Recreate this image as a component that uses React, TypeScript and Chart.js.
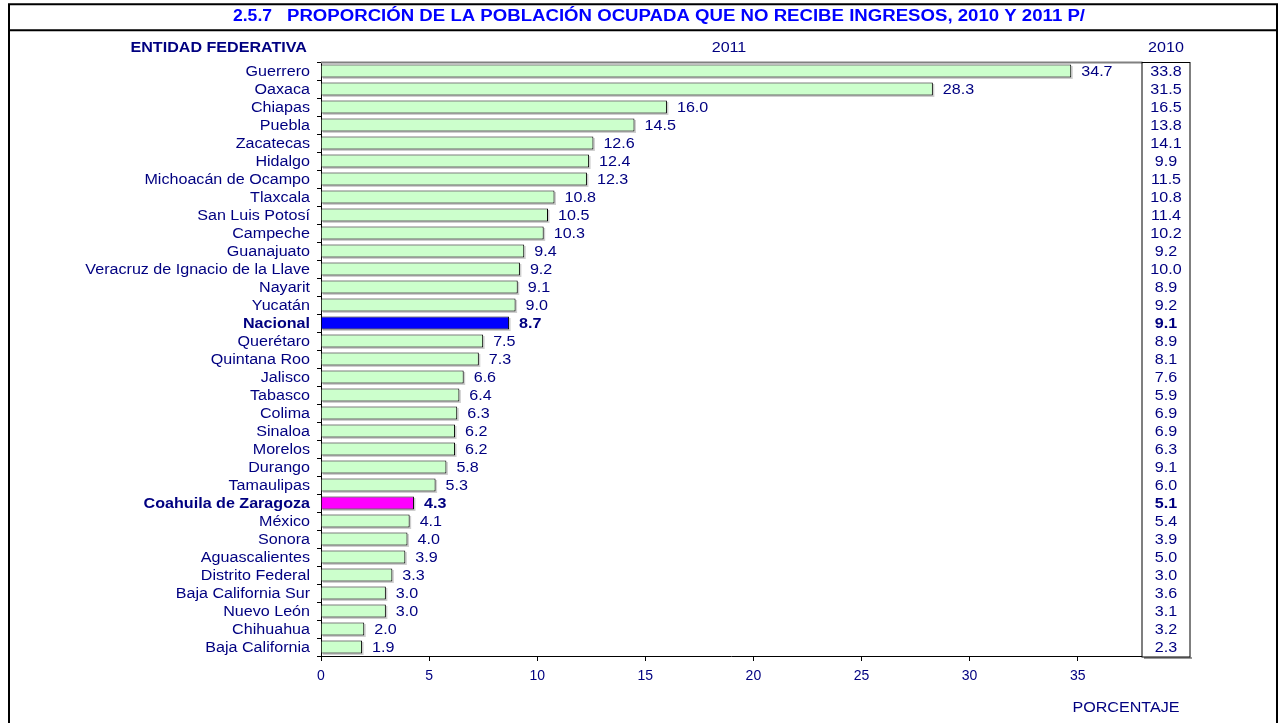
import React, { useEffect, useRef } from "react";
import { Chart, registerables } from "chart.js";

Chart.register(...registerables);

const entidades = [
  "Guerrero", "Oaxaca", "Chiapas", "Puebla", "Zacatecas", "Hidalgo",
  "Michoacán de Ocampo", "Tlaxcala", "San Luis Potosí", "Campeche",
  "Guanajuato", "Veracruz de Ignacio de la Llave", "Nayarit", "Yucatán",
  "Nacional", "Querétaro", "Quintana Roo", "Jalisco", "Tabasco", "Colima",
  "Sinaloa", "Morelos", "Durango", "Tamaulipas", "Coahuila de Zaragoza",
  "México", "Sonora", "Aguascalientes", "Distrito Federal",
  "Baja California Sur", "Nuevo León", "Chihuahua", "Baja California",
];

const valores2011 = [
  34.7, 28.3, 16.0, 14.5, 12.6, 12.4, 12.3, 10.8, 10.5, 10.3, 9.4, 9.2, 9.1,
  9.0, 8.7, 7.5, 7.3, 6.6, 6.4, 6.3, 6.2, 6.2, 5.8, 5.3, 4.3, 4.1, 4.0, 3.9,
  3.3, 3.0, 3.0, 2.0, 1.9,
];

const valores2010 = [
  33.8, 31.5, 16.5, 13.8, 14.1, 9.9, 11.5, 10.8, 11.4, 10.2, 9.2, 10.0, 8.9,
  9.2, 9.1, 8.9, 8.1, 7.6, 5.9, 6.9, 6.9, 6.3, 9.1, 6.0, 5.1, 5.4, 3.9, 5.0,
  3.0, 3.6, 3.1, 3.2, 2.3,
];

const destacados: Record<string, string> = {
  Nacional: "#0000FF",
  "Coahuila de Zaragoza": "#FF00FF",
};

const TITULO_NUM = "2.5.7";
const TITULO = "PROPORCIÓN DE LA POBLACIÓN OCUPADA QUE NO RECIBE INGRESOS, 2010 Y 2011 P/";

const NAVY = "#000080";
const FONT = '"Liberation Sans", Arial, sans-serif';
const SX = 1.15;
const FS = 14;

function sText(
  ctx: CanvasRenderingContext2D,
  text: string,
  x: number,
  y: number,
  align: "left" | "right" | "center",
  font: string,
  color: string,
  sx: number = SX
) {
  ctx.save();
  ctx.font = font;
  ctx.fillStyle = color;
  ctx.textBaseline = "middle";
  ctx.textAlign = "left";
  const w = ctx.measureText(text).width * sx;
  const left = align === "left" ? x : align === "right" ? x - w : x - w / 2;
  ctx.translate(left, y);
  ctx.scale(sx, 1);
  ctx.fillText(text, 0, 0);
  ctx.restore();
}

function fitText(
  ctx: CanvasRenderingContext2D,
  text: string,
  left: number,
  right: number,
  y: number,
  font: string,
  color: string
) {
  ctx.save();
  ctx.font = font;
  const w = ctx.measureText(text).width;
  ctx.restore();
  sText(ctx, text, left, y, "left", font, color, (right - left) / w);
}

const decor = {
  id: "decor",
  beforeDraw(chart: any) {
    const ctx = chart.ctx as CanvasRenderingContext2D;
    ctx.save();
    ctx.fillStyle = "#FFFFFF";
    ctx.fillRect(0, 0, chart.width, chart.height);
    ctx.restore();
  },
  beforeDatasetsDraw(chart: any) {
    // faint shadow under the bars
    const ctx = chart.ctx as CanvasRenderingContext2D;
    const meta = chart.getDatasetMeta(0);
    ctx.save();
    ctx.fillStyle = "#cfcfcf";
    meta.data.forEach((bar: any) => {
      const h = bar.height;
      ctx.fillRect(bar.base + 1.5, bar.y - h / 2 + 1.5, bar.x - bar.base, h);
    });
    ctx.restore();
  },
  afterDraw(chart: any) {
    const ctx = chart.ctx as CanvasRenderingContext2D;
    const area = chart.chartArea;
    const yScale = chart.scales.y;
    const meta = chart.getDatasetMeta(0);

    // outer frame
    ctx.save();
    ctx.strokeStyle = "#000000";
    ctx.lineWidth = 2;
    ctx.beginPath();
    ctx.moveTo(9, 730);
    ctx.lineTo(9, 4.3);
    ctx.lineTo(1277, 4.3);
    ctx.lineTo(1277, 730);
    ctx.moveTo(9, 30.3);
    ctx.lineTo(1277, 30.3);
    ctx.stroke();

    // top plot border
    ctx.strokeStyle = "#808080";
    ctx.lineWidth = 2;
    ctx.beginPath();
    ctx.moveTo(area.left, area.top + 0.5);
    ctx.lineTo(area.right + 1, area.top + 0.5);
    ctx.stroke();

    // 2010 box
    const bx = area.right + 0.5;
    const bw = 48;
    ctx.fillStyle = "#9a9a9a";
    ctx.fillRect(bx + 2, area.bottom + 1, bw, 2);
    ctx.strokeStyle = "#000000";
    ctx.lineWidth = 1;
    ctx.strokeRect(bx, area.top + 0.5, bw, area.bottom - area.top + 0.5);
    ctx.restore();

    // title
    fitText(ctx, TITULO_NUM, 233, 272, 17, `bold 16px ${FONT}`, "#0000FF");
    fitText(ctx, TITULO, 287, 1085, 17, `bold 16px ${FONT}`, "#0000FF");

    // headers
    sText(ctx, "ENTIDAD FEDERATIVA", 307, 48.5, "right", `bold ${FS}px ${FONT}`, NAVY);
    sText(ctx, "2011", 729, 48.5, "center", `${FS}px ${FONT}`, NAVY);
    sText(ctx, "2010", bx + bw / 2, 48.5, "center", `${FS}px ${FONT}`, NAVY);
    sText(ctx, "PORCENTAJE", 1126, 708, "center", `${FS}px ${FONT}`, NAVY);

    // category labels, value labels and 2010 values
    entidades.forEach((name, i) => {
      const y = yScale.getPixelForValue(i) + 1;
      const bold = destacados[name] ? "bold " : "";
      sText(ctx, name, area.left - 11, y, "right", `${bold}${FS}px ${FONT}`, NAVY);
      const bar = meta.data[i];
      sText(ctx, valores2011[i].toFixed(1), bar.x + 10, y, "left", `${bold}${FS}px ${FONT}`, NAVY);
      sText(ctx, valores2010[i].toFixed(1), bx + bw / 2, y + 0.5, "center", `${bold}${FS}px ${FONT}`, NAVY);
    });
  },
};

export default function App() {
  const ref = useRef<HTMLCanvasElement | null>(null);

  useEffect(() => {
    if (!ref.current) return;
    const colors = entidades.map((e) => destacados[e] || "#CCFFCC");
    const chart = new Chart(ref.current, {
      type: "bar",
      data: {
        labels: entidades,
        datasets: [
          {
            label: "2011",
            data: valores2011,
            backgroundColor: colors,
            borderColor: "#000000",
            borderWidth: 1,
            barPercentage: 0.72,
            categoryPercentage: 1,
          },
        ],
      },
      options: {
        indexAxis: "y",
        animation: false,
        responsive: false,
        maintainAspectRatio: false,
        layout: { padding: { left: 0, right: 139.5, top: 62, bottom: 0 } },
        plugins: {
          legend: { display: false },
          tooltip: { enabled: false },
          title: { display: false },
        },
        scales: {
          x: {
            type: "linear",
            min: 0,
            max: 37.95,
            afterFit: (s: any) => {
              s.height = 67;
            },
            ticks: {
              stepSize: 5,
              includeBounds: false,
              color: NAVY,
              font: { family: FONT, size: 14 },
              padding: 7,
            },
            grid: {
              drawOnChartArea: false,
              drawTicks: true,
              tickLength: 5,
              color: "#000000",
            },
            border: { display: true, color: "#000000", width: 1 },
          },
          y: {
            type: "category",
            afterFit: (s: any) => {
              s.width = 321;
            },
            ticks: { display: false },
            grid: {
              drawOnChartArea: false,
              drawTicks: true,
              tickLength: 4,
              color: "#000000",
            },
            border: { display: true, color: "#000000", width: 1 },
          },
        },
      } as any,
      plugins: [decor],
    });
    return () => chart.destroy();
  }, []);

  return (
    <div style={{ position: "absolute", left: 0, top: 0, width: 1281, height: 723 }}>
      <canvas ref={ref} width={1281} height={723} style={{ display: "block" }} />
    </div>
  );
}
